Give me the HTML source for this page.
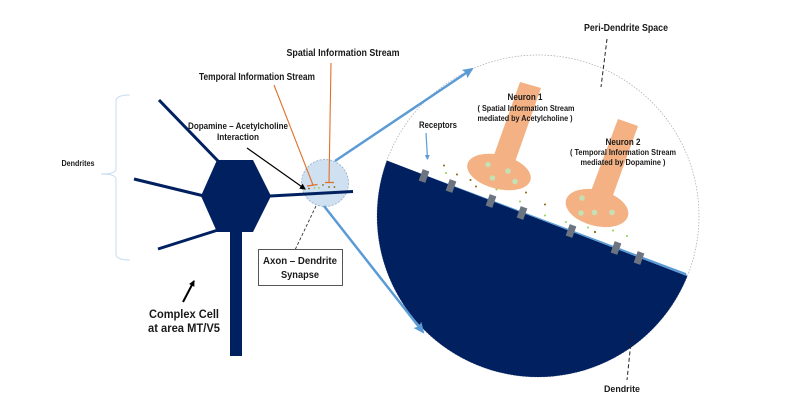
<!DOCTYPE html>
<html>
<head>
<meta charset="utf-8">
<style>
html,body{margin:0;padding:0;background:#fff;width:801px;height:413px;overflow:hidden}
svg{display:block;filter:blur(0.3px)}
text{font-family:"Liberation Sans",sans-serif;font-weight:bold;fill:#1a1a1a;text-anchor:middle}
</style>
</head>
<body>
<svg width="801" height="413" viewBox="0 0 801 413" xmlns="http://www.w3.org/2000/svg">
<defs>
<clipPath id="c"><circle cx="538" cy="216" r="161"/></clipPath>
<marker id="b" markerWidth="12" markerHeight="12" refX="9" refY="5" orient="auto" markerUnits="userSpaceOnUse"><path d="M0 0L11 5L0 10L2 5Z" fill="#5b9bd5"/></marker>
<marker id="k" markerWidth="8" markerHeight="8" refX="5" refY="3" orient="auto" markerUnits="userSpaceOnUse"><path d="M0 0L6 3L0 6Z" fill="#000"/></marker>
<marker id="s" markerWidth="6" markerHeight="6" refX="4" refY="2.500" orient="auto" markerUnits="userSpaceOnUse"><path d="M0 0L5 2.500L0 5Z" fill="#5b9bd5"/></marker>
</defs>

<!-- big circle -->
<circle cx="538" cy="216" r="161" fill="#fff" stroke="#a6a6b4" stroke-width="0.700" stroke-dasharray="1.500 1.500"/>
<!-- dendrite segment -->
<polygon points="370,154 720,288.700 720,400 360,400" fill="#002060" clip-path="url(#c)"/>
<polygon points="410,169.500 687,276 686,273" fill="#5b9bd5"/>

<!-- neurons -->
<g fill="#f4b183">
<polygon points="520,82 541,88 515,162 494,155"/>
<ellipse cx="499" cy="172" rx="32.500" ry="17" transform="rotate(14 499 172)"/>
<polygon points="618,119 638,126 612,198 591,191"/>
<ellipse cx="597" cy="208" rx="32" ry="18" transform="rotate(14 597 208)"/>
</g>
<g fill="#c5e0b4">
<circle cx="488" cy="164.500" r="2.800"/><circle cx="508" cy="171" r="2.800"/><circle cx="492.500" cy="178" r="2.800"/><circle cx="515" cy="181.500" r="2.800"/>
<circle cx="582" cy="198" r="2.800"/><circle cx="581" cy="213" r="2.800"/><circle cx="594.500" cy="212.500" r="2.800"/><circle cx="612" cy="212.500" r="2.800"/>
</g>

<!-- receptors -->
<g fill="#6b7480">
<rect x="-3.500" y="-6" width="7" height="12" transform="translate(424 176) rotate(20)"/>
<rect x="-3.500" y="-6" width="7" height="12" transform="translate(451 186) rotate(20)"/>
<rect x="-3.500" y="-6" width="7" height="12" transform="translate(491 201) rotate(20)"/>
<rect x="-3.500" y="-6" width="7" height="12" transform="translate(522 213) rotate(20)"/>
<rect x="-3.500" y="-6" width="7" height="12" transform="translate(571 231) rotate(20)"/>
<rect x="-3.500" y="-6" width="7" height="12" transform="translate(616 248) rotate(20)"/>
<rect x="-3.500" y="-6" width="7" height="12" transform="translate(639 258) rotate(20)"/>
</g>

<!-- transmitter dots -->
<g fill="#8a6410">
<circle cx="444" cy="165.500" r="1"/><circle cx="457" cy="174.500" r="1"/><circle cx="470.500" cy="180" r="1"/><circle cx="476" cy="186.500" r="1"/><circle cx="526" cy="192.500" r="1"/><circle cx="545" cy="204.500" r="1"/><circle cx="595" cy="232" r="1.100"/>
</g>
<g fill="#92d050">
<circle cx="446" cy="173" r="1"/><circle cx="496.500" cy="189.500" r="1"/><circle cx="520" cy="201.500" r="1"/><circle cx="545" cy="215.500" r="1"/><circle cx="566" cy="222" r="1"/><circle cx="588" cy="227.500" r="1"/><circle cx="613" cy="230.500" r="1"/><circle cx="627" cy="236" r="1"/>
</g>

<!-- cell -->
<g stroke="#002060" stroke-width="3" fill="none">
<line x1="159" y1="100" x2="218" y2="161"/>
<line x1="134" y1="179" x2="202" y2="195.500"/>
<line x1="158" y1="249" x2="218" y2="230"/>
</g>
<polygon points="217,160 253,160 271,196 253,232 217,232 201,196" fill="#002060"/>
<rect x="230" y="232" width="12" height="124" fill="#002060"/>

<!-- small circle -->
<circle cx="325" cy="183" r="23.500" fill="#cfe0f1" stroke="#8fa9c6" stroke-width="0.800" stroke-dasharray="2 1.500"/>
<path d="M270 196 L353 191.500" stroke="#002060" stroke-width="3" fill="none"/>

<!-- zoom lines -->
<line x1="335" y1="161" x2="472" y2="69" stroke="#5b9bd5" stroke-width="2.500" marker-end="url(#b)"/>
<line x1="324" y1="206" x2="423" y2="332" stroke="#5b9bd5" stroke-width="2.500" marker-end="url(#b)"/>

<!-- orange -->
<g stroke="#e0702a" stroke-width="1.100" fill="none">
<line x1="331" y1="63" x2="329" y2="183"/>
<line x1="325" y1="182.500" x2="334" y2="182.500" stroke-width="1.300"/>
<line x1="274" y1="85" x2="313" y2="185"/>
<line x1="307" y1="186" x2="317.500" y2="184.500" stroke-width="1.300"/>
</g>
<g fill="#8a6410"><circle cx="309" cy="188.500" r="0.900"/><circle cx="323" cy="185" r="0.900"/><circle cx="329" cy="187" r="0.900"/><circle cx="334.500" cy="187" r="0.900"/></g>
<g fill="#92d050"><circle cx="314.500" cy="188" r="0.900"/><circle cx="319" cy="188" r="0.900"/></g>

<!-- black and dashed lines -->
<line x1="247" y1="148" x2="305" y2="189" stroke="#000" stroke-width="1.200" marker-end="url(#k)"/>
<line x1="316" y1="206" x2="295" y2="250" stroke="#333" stroke-width="0.900" stroke-dasharray="3 2"/>
<line x1="607" y1="39" x2="601" y2="87" stroke="#222" stroke-width="1" stroke-dasharray="4 2.500"/>
<line x1="632" y1="332" x2="627" y2="380" stroke="#222" stroke-width="1" stroke-dasharray="4 2.500"/>
<line x1="426" y1="133" x2="427.500" y2="159" stroke="#5b9bd5" stroke-width="1.200" marker-end="url(#s)"/>
<line x1="183" y1="302" x2="194" y2="281" stroke="#000" stroke-width="2" marker-end="url(#k)"/>

<!-- brace -->
<path d="M130 95 Q116 95 116 101 L116 169 Q116 174 101 174 Q116 174 116 179 L116 254 Q116 260 130 260" fill="none" stroke="#c5dbf0" stroke-width="1"/>

<!-- box -->
<rect x="258.500" y="249.500" width="84" height="36" fill="#fff" stroke="#555" stroke-width="1"/>

<!-- labels -->
<text x="343" y="56" font-size="10" textLength="113" lengthAdjust="spacingAndGlyphs">Spatial Information Stream</text>
<text x="257" y="80" font-size="10" textLength="116" lengthAdjust="spacingAndGlyphs">Temporal Information Stream</text>
<text x="238" y="129" font-size="9.500" textLength="100" lengthAdjust="spacingAndGlyphs">Dopamine – Acetylcholine</text>
<text x="238" y="140" font-size="9.500" textLength="42" lengthAdjust="spacingAndGlyphs">Interaction</text>
<text x="78" y="166" font-size="8" textLength="33" lengthAdjust="spacingAndGlyphs">Dendrites</text>
<text x="300" y="264" font-size="10.500" textLength="74" lengthAdjust="spacingAndGlyphs">Axon – Dendrite</text>
<text x="300" y="278" font-size="10.500" textLength="38" lengthAdjust="spacingAndGlyphs">Synapse</text>
<text x="184" y="318" font-size="11.500" textLength="70" lengthAdjust="spacingAndGlyphs">Complex Cell</text>
<text x="184" y="332" font-size="11.500" textLength="72" lengthAdjust="spacingAndGlyphs">at area MT/V5</text>
<text x="626" y="31" font-size="10" textLength="84" lengthAdjust="spacingAndGlyphs">Peri-Dendrite Space</text>
<text x="438" y="128" font-size="9.500" textLength="38" lengthAdjust="spacingAndGlyphs">Receptors</text>
<text x="525" y="100" font-size="9.500" textLength="35" lengthAdjust="spacingAndGlyphs">Neuron 1</text>
<text x="526" y="111" font-size="8.500" textLength="97" lengthAdjust="spacingAndGlyphs">( Spatial Information Stream</text>
<text x="525" y="121" font-size="8.500" textLength="95" lengthAdjust="spacingAndGlyphs">mediated by Acetylcholine )</text>
<text x="623" y="145" font-size="9.500" textLength="35" lengthAdjust="spacingAndGlyphs">Neuron 2</text>
<text x="623" y="155" font-size="8.500" textLength="106" lengthAdjust="spacingAndGlyphs">( Temporal Information Stream</text>
<text x="623" y="165" font-size="8.500" textLength="85" lengthAdjust="spacingAndGlyphs">mediated by Dopamine )</text>
<text x="622" y="392" font-size="9.500" textLength="36" lengthAdjust="spacingAndGlyphs">Dendrite</text>
</svg>
</body>
</html>
